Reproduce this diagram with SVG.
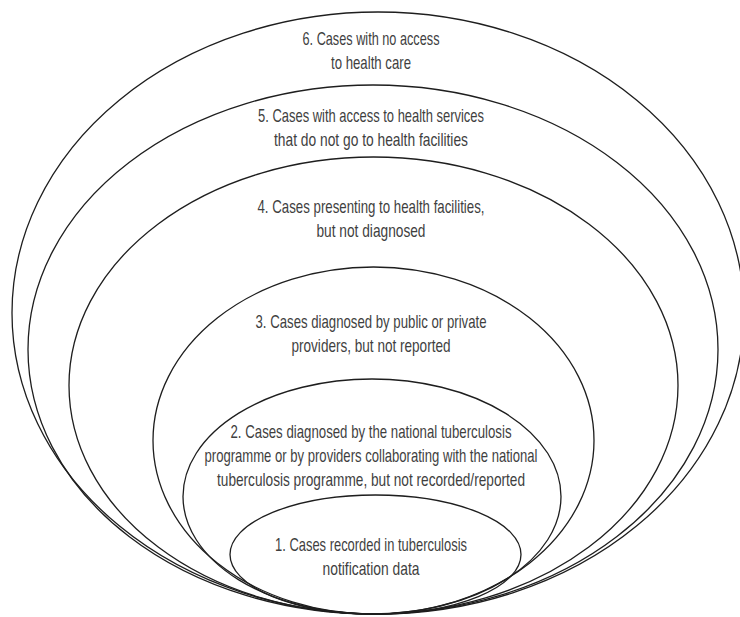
<svg xmlns="http://www.w3.org/2000/svg" width="740" height="617" viewBox="0 0 740 617">
<style>
.ring{fill:none;stroke:#1e1e1e;stroke-width:1.3}
.lbl{font-family:"Liberation Sans",Arial,sans-serif;font-size:19px;fill:#3f3f3f;text-anchor:middle}
</style>
<rect width="740" height="617" fill="#fff"/>
<g id="node6">
<ellipse class="ring" cx="378" cy="313" rx="366" ry="301"/>
<text class="lbl" x="371" y="45" textLength="137" lengthAdjust="spacingAndGlyphs">6. Cases with no access</text>
<text class="lbl" x="371" y="69" textLength="80" lengthAdjust="spacingAndGlyphs">to health care</text>
</g>
<g id="node5">
<ellipse class="ring" cx="373" cy="349.5" rx="345" ry="264.5"/>
<text class="lbl" x="371" y="122" textLength="226" lengthAdjust="spacingAndGlyphs">5. Cases with access to health services</text>
<text class="lbl" x="371" y="146" textLength="194" lengthAdjust="spacingAndGlyphs">that do not go to health facilities</text>
</g>
<g id="node4">
<ellipse class="ring" cx="373.5" cy="385.5" rx="304.5" ry="228.5"/>
<text class="lbl" x="371" y="213" textLength="227" lengthAdjust="spacingAndGlyphs">4. Cases presenting to health facilities,</text>
<text class="lbl" x="371" y="237" textLength="109" lengthAdjust="spacingAndGlyphs">but not diagnosed</text>
</g>
<g id="node3">
<ellipse class="ring" cx="373.5" cy="440.5" rx="220.5" ry="173.5"/>
<text class="lbl" x="371" y="328" textLength="231" lengthAdjust="spacingAndGlyphs">3. Cases diagnosed by public or private</text>
<text class="lbl" x="371" y="352" textLength="159" lengthAdjust="spacingAndGlyphs">providers, but not reported</text>
</g>
<g id="node2">
<ellipse class="ring" cx="372" cy="496.5" rx="189" ry="117.5"/>
<text class="lbl" x="371" y="438" textLength="281" lengthAdjust="spacingAndGlyphs">2. Cases diagnosed by the national tuberculosis</text>
<text class="lbl" x="371" y="462" textLength="333" lengthAdjust="spacingAndGlyphs">programme or by providers collaborating with the national</text>
<text class="lbl" x="371" y="486" textLength="308" lengthAdjust="spacingAndGlyphs">tuberculosis programme, but not recorded/reported</text>
</g>
<g id="node1">
<ellipse class="ring" cx="375.5" cy="554.5" rx="145.5" ry="59.5"/>
<text class="lbl" x="371" y="551" textLength="192" lengthAdjust="spacingAndGlyphs">1. Cases recorded in tuberculosis</text>
<text class="lbl" x="371" y="575" textLength="97" lengthAdjust="spacingAndGlyphs">notification data</text>
</g>
<g id="connectors"></g>
</svg>
